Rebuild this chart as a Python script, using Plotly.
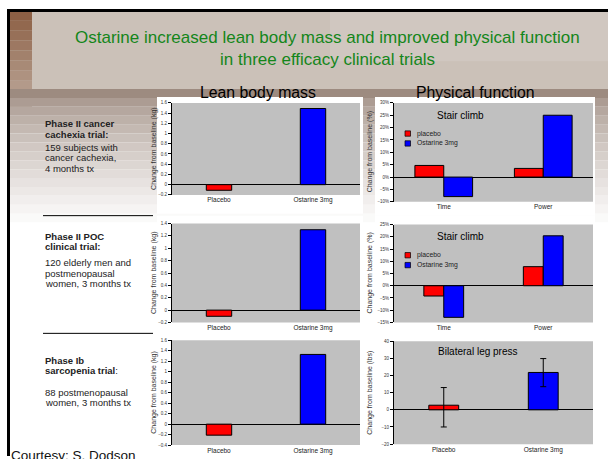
import plotly.graph_objects as go

# ---------------- data ----------------
lbm_categories = ["Placebo", "Ostarine 3mg"]
lbm_cachexia = [-0.11, 1.49]
lbm_poc = [-0.1, 1.3]
lbm_sarcopenia = [-0.21, 1.33]

stair_categories = ["Time", "Power"]
stair1_placebo = [4.7, 3.5]
stair1_ostarine = [-7.9, 25.0]
stair2_placebo = [-4.2, 7.8]
stair2_ostarine = [-12.9, 20.4]

leg_categories = ["Placebo", "Ostarine 3mg"]
leg_values = [2.7, 21.8]
leg_err_plus = [10.3, 8.1]
leg_err_minus = [12.7, 8.3]

series_names = ["placebo", "Ostarine 3mg"]
RED, BLUE = "#ff0000", "#0000ff"

W, H = 608, 459
def fx(p): return p / W
def fy(p): return 1 - p / H

FONT = "Liberation Sans, Arial, sans-serif"

fig = go.Figure()

# ---------------- traces ----------------
bar_line = dict(color="black", width=1)
fig.add_trace(go.Bar(x=lbm_categories, y=lbm_cachexia, width=0.27,
                     marker=dict(color=[RED, BLUE], line=bar_line),
                     xaxis="x", yaxis="y", showlegend=False))
fig.add_trace(go.Bar(x=stair_categories, y=stair1_placebo, width=0.29, offset=-0.29,
                     name=series_names[0], marker=dict(color=RED, line=bar_line),
                     xaxis="x2", yaxis="y2", showlegend=False))
fig.add_trace(go.Bar(x=stair_categories, y=stair1_ostarine, width=0.29, offset=0,
                     name=series_names[1], marker=dict(color=BLUE, line=bar_line),
                     xaxis="x2", yaxis="y2", showlegend=False))
fig.add_trace(go.Bar(x=lbm_categories, y=lbm_poc, width=0.27,
                     marker=dict(color=[RED, BLUE], line=bar_line),
                     xaxis="x3", yaxis="y3", showlegend=False))
fig.add_trace(go.Bar(x=stair_categories, y=stair2_placebo, width=0.2, offset=-0.2,
                     name=series_names[0], marker=dict(color=RED, line=bar_line),
                     xaxis="x4", yaxis="y4", showlegend=False))
fig.add_trace(go.Bar(x=stair_categories, y=stair2_ostarine, width=0.2, offset=0,
                     name=series_names[1], marker=dict(color=BLUE, line=bar_line),
                     xaxis="x4", yaxis="y4", showlegend=False))
fig.add_trace(go.Bar(x=lbm_categories, y=lbm_sarcopenia, width=0.27,
                     marker=dict(color=[RED, BLUE], line=bar_line),
                     xaxis="x5", yaxis="y5", showlegend=False))
fig.add_trace(go.Bar(x=leg_categories, y=leg_values, width=0.3,
                     marker=dict(color=[RED, BLUE], line=bar_line),
                     error_y=dict(type="data", symmetric=False, array=leg_err_plus,
                                  arrayminus=leg_err_minus, color="black",
                                  thickness=1, width=3),
                     xaxis="x6", yaxis="y6", showlegend=False))

# ---------------- axes ----------------
panels = [
    # (x0, x1, ytop, ybottom, range, dtick, suffix)
    (172, 360, 102, 195, [-0.2, 1.6], 0.2, ""),
    (394, 593, 102, 202, [-10, 30], 5, "%"),
    (172, 360, 224, 324, [-0.2, 1.4], 0.2, ""),
    (394, 593, 225, 324, [-15, 25], 5, "%"),
    (172, 360, 342, 448, [-0.4, 1.6], 0.2, ""),
    (394, 593, 343, 447, [-20, 40], 10, ""),
]
layout_axes = {}
for i, (x0, x1, yt, yb, rng, dt, suf) in enumerate(panels, start=1):
    xs = "" if i == 1 else str(i)
    layout_axes["xaxis" + xs] = dict(
        domain=[fx(x0), fx(x1)], anchor="y" + xs, showgrid=False, zeroline=False,
        showline=False, ticks="", tickfont=dict(size=6.5, color="#222", family=FONT),
        fixedrange=True)
    layout_axes["yaxis" + xs] = dict(
        domain=[fy(yb), fy(yt)], anchor="x" + xs, range=rng, dtick=dt, tick0=0,
        ticksuffix=suf, showgrid=False, zeroline=True, zerolinecolor="black",
        zerolinewidth=1, showline=True, linecolor="black", linewidth=1,
        ticks="outside", ticklen=3, tickcolor="black", tickwidth=1,
        tickfont=dict(size=4.5, color="#333", family=FONT), fixedrange=True)

# ---------------- decoration shapes ----------------
shapes = []
def rect(x0, y0, x1, y1, color, opacity=1.0):
    shapes.append(dict(type="rect", xref="paper", yref="paper", layer="below",
                       x0=fx(x0), x1=fx(x1), y0=fy(y1), y1=fy(y0),
                       fillcolor=color, opacity=opacity, line=dict(width=0)))

def lerp(c1, c2, t):
    a = [int(c1[i:i + 2], 16) for i in (1, 3, 5)]
    b = [int(c2[i:i + 2], 16) for i in (1, 3, 5)]
    return "#%02x%02x%02x" % tuple(round(a[k] + (b[k] - a[k]) * t) for k in range(3))

# top title band
rect(9, 9, 608, 90, "#cbc1b8")
rect(330, 9, 608, 60, "#d4ccc4", 0.6)
# brown left strip
n = 10
for k in range(n):
    y0 = 9 + k * 10
    rect(9, y0, 32, y0 + 10, lerp("#8c5f44", "#c4b4a8", k / n))
# photo area fading to white below the title band
n = 16
for k in range(n):
    y0 = 88 + k * 9
    rect(9, y0, 608, y0 + 9, lerp("#9d8b80", "#ffffff", min(1, (k / (n - 1)) ** 0.7)))
# white chart panels
rect(157, 96, 363, 214, "white")
rect(375, 96, 595, 216, "white")
rect(157, 216, 363, 336, "white")
rect(375, 216, 595, 336, "white")
rect(157, 336, 363, 459, "white")
rect(375, 336, 595, 459, "white")
# grey plot areas
for (x0, x1, yt, yb, rng, dt, suf) in panels:
    rect(x0, yt, x1, yb, "#c0c0c0")

# black slide border
shapes.append(dict(type="line", xref="paper", yref="paper", x0=fx(7), x1=1,
                   y0=fy(8.5), y1=fy(8.5), line=dict(color="black", width=3)))
shapes.append(dict(type="line", xref="paper", yref="paper", x0=fx(8.5), x1=fx(8.5),
                   y0=fy(7), y1=0, line=dict(color="black", width=3)))
# separators in left column
for yy in (216, 335):
    shapes.append(dict(type="line", xref="paper", yref="paper", x0=fx(43), x1=fx(153),
                       y0=fy(yy), y1=fy(yy), line=dict(color="black", width=1)))

# legend squares
for ytop_px in (133, 256):
    for j, col in enumerate([RED, BLUE]):
        yc = ytop_px + 10 * j
        shapes.append(dict(type="rect", xref="paper", yref="paper",
                           x0=fx(405), x1=fx(410.5), y0=fy(yc + 2.7), y1=fy(yc - 2.7),
                           fillcolor=col, line=dict(color="black", width=0.7)))

# ---------------- text ----------------
ann = []
def text(x, y, s, size, color="black", xanchor="center", angle=0, bold=False):
    if bold:
        s = "<b>" + s + "</b>"
    ann.append(dict(text=s, x=fx(x), y=fy(y), xref="paper", yref="paper",
                    xanchor=xanchor, yanchor="middle", showarrow=False,
                    textangle=angle, font=dict(size=size, color=color, family=FONT)))

text(327, 36, "Ostarine increased lean body mass and improved physical function", 17, "#14861a")
text(327, 58, "in three efficacy clinical trials", 17, "#14861a")
text(258, 91, "Lean body mass", 15.8)
text(475, 91, "Physical function", 15.8)

# y-axis titles
for (x0, x1, yt, yb, rng, dt, suf), unit in zip(panels, ["kg", "%", "kg", "%", "kg", "lbs"]):
    xx = 154 if x0 < 300 else 370
    text(xx, (yt + yb) / 2, "Change from baseline (%s)" % unit, 7, "#333", angle=-90)

# panel titles and legends
text(460, 115, "Stair climb", 10)
text(460, 237, "Stair climb", 10)
text(477, 353, "Bilateral leg press", 10)
for ytop_px in (133, 256):
    for j, nm in enumerate(series_names):
        text(415, ytop_px + 10 * j, nm, 6.8, "#222", xanchor="left")

# left column text
left = [
    (123, "Phase II cancer", True), (133.5, "cachexia trial:", True),
    (147, "159 subjects with", False), (157.5, "cancer cachexia,", False),
    (168, "4 months tx", False),
    (237, "Phase II POC", True), (247.5, "clinical trial:", True),
    (263.5, "120 elderly men and", False), (274, "postmenopausal", False),
    (284.5, "women, 3 months tx", False),
    (362.5, "Phase Ib", True), (373, "<b>sarcopenia trial</b>:", False),
    (394.5, "88 postmenopausal", False), (405, "women, 3 months tx", False),
]
for yy, s, b in left:
    text(43, yy, s, 9.5, "#222", xanchor="left", bold=b)

text(9, 458, "Courtesy: S. Dodson", 13.5, "#111", xanchor="left")

fig.update_layout(
    width=W, height=H, margin=dict(l=0, r=0, t=0, b=0),
    paper_bgcolor="white", plot_bgcolor="rgba(0,0,0,0)",
    barmode="overlay", showlegend=False,
    font=dict(family=FONT),
    shapes=shapes, annotations=ann, **layout_axes)

fig.write_html("out.html")
